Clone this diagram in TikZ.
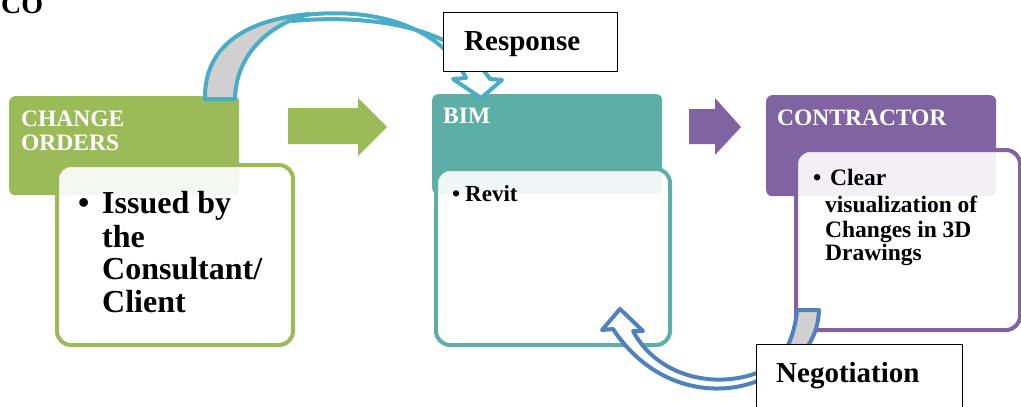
\documentclass[tikz,border=0pt]{standalone}
\usepackage{fontspec}
\setmainfont{Liberation Serif}
\definecolor{cogreen}{HTML}{9BBB59}
\definecolor{bimteal}{HTML}{5DAFA6}
\definecolor{conpurple}{HTML}{8064A2}
\definecolor{respblue}{HTML}{4BACC6}
\definecolor{negoblue}{HTML}{4F81BD}
\definecolor{backgray}{HTML}{D0D0D0}
\begin{document}
\begin{tikzpicture}[x=1pt,y=-1pt,
  hdr/.style={rounded corners=6pt, inner sep=0pt, anchor=north west, draw=none},
  card/.style={rounded corners=14pt, fill=white, fill opacity=0.9, line width=4pt,
               inner sep=0pt, anchor=north west},
  hdrtext/.style={anchor=base west, inner sep=0pt, text=white,
                  font=\fontsize{23.5}{24}\selectfont\bfseries},
  bodytext/.style={anchor=base west, inner sep=0pt, font=\bfseries},
  curvedband/.style={line width=4pt, line join=round},
  tagbox/.style={draw=black, line width=0.8pt, fill=white, inner sep=0pt, anchor=north west}]
\useasboundingbox (0,0) rectangle (1021,407);

% heading fragment at the top edge
\node[anchor=base west, inner sep=0pt, font=\fontsize{28}{30}\selectfont\bfseries] (head) at (1,13) {CO};

% ---- CHANGE ORDERS ----
\node[hdr, fill=cogreen, minimum width=230pt, minimum height=99pt] (coh) at (9,96) {};
\node[hdrtext] (cot1) at (21,126) {CHANGE};
\node[hdrtext] (cot2) at (21,150) {ORDERS};
\node[card, draw=cogreen, minimum width=236pt, minimum height=180pt] (cob) at (55,163) {};
\begin{scope}[every node/.style={bodytext, font=\fontsize{32}{33}\selectfont\bfseries}]
  \node (cob0) at (78,213) {\textbullet};
  \node (cob1) at (102,213) {Issued by};
  \node (cob2) at (102,247) {the};
  \node (cob3) at (102,279) {Consultant/};
  \node (cob4) at (102,312) {Client};
\end{scope}

% ---- BIM ----
\node[hdr, fill=bimteal, minimum width=230pt, minimum height=100pt] (bimh) at (432,94) {};
\node[hdrtext] (bimt) at (443,123) {BIM};
\node[card, draw=bimteal, minimum width=234pt, minimum height=176pt] (bimb) at (434,167) {};
\begin{scope}[every node/.style={bodytext, font=\fontsize{23}{24}\selectfont\bfseries}]
  \node (bimb0) at (452,201) {\textbullet};
  \node (bimb1) at (465,201) {Revit};
\end{scope}

% ---- CONTRACTOR ----
\node[hdr, fill=conpurple, minimum width=230pt, minimum height=101pt] (conh) at (766,95) {};
\node[hdrtext] (cont) at (777,125) {CONTRACTOR};
\node[card, draw=conpurple, minimum width=224pt, minimum height=180pt] (conb) at (794,148) {};
\begin{scope}[every node/.style={bodytext, font=\fontsize{23.5}{25}\selectfont\bfseries}]
  \node (conb0) at (813,185) {\textbullet};
  \node (conb1) at (830,185) {Clear};
  \node (conb2) at (825,212) {visualization of};
  \node (conb3) at (825,237) {Changes in 3D};
  \node (conb4) at (825,260) {Drawings};
\end{scope}

% ---- flow arrows between the stages ----
\fill[cogreen] (288,108) -- (358,108) -- (358,98) -- (387,127) -- (358,156)
  -- (358,144) -- (288,144) -- cycle;
\fill[conpurple] (689,109) -- (715,109) -- (715,98) -- (741,127) -- (715,155)
  -- (715,144) -- (689,144) -- cycle;

% ---- Response: curved arrow from CHANGE ORDERS down into BIM ----
\filldraw[curvedband, draw=respblue, fill=white]
  (290,17) .. controls (370,4) and (440,25) .. (466,78)
  -- (453,79) -- (481,98) -- (502,80) -- (490,79)
  .. controls (455,26) and (370,14) .. (292,21) -- cycle;
\filldraw[curvedband, draw=respblue, fill=backgray]
  (205,99) .. controls (204,50) and (240,20) .. (310,14)
  .. controls (275,22) and (236,50) .. (235,99) -- cycle;

% ---- Negotiation: curved arrow from CONTRACTOR back up into BIM ----
\filldraw[curvedband, draw=negoblue, fill=white]
  (780,368) .. controls (740,400) and (660,400) .. (613,329)
  -- (602,330) -- (620,309) -- (643,331) -- (633,331)
  .. controls (662,385) and (735,392) .. (778,362) -- cycle;
\filldraw[curvedband, draw=negoblue, fill=backgray]
  (797,310) -- (819,310) .. controls (818,340) and (800,365) .. (765,378)
  .. controls (785,358) and (795,335) .. (797,310) -- cycle;

% ---- tags on the curved arrows ----
\node[tagbox, minimum width=174pt, minimum height=59pt] (respbox) at (443,12) {};
\node[bodytext, font=\fontsize{29}{30}\selectfont\bfseries] (resp) at (464,50) {Response};
\node[tagbox, minimum width=206pt, minimum height=80pt] (negobox) at (756,344) {};
\node[bodytext, font=\fontsize{29}{30}\selectfont\bfseries] (nego) at (776,382) {Negotiation};
\end{tikzpicture}
\end{document}
